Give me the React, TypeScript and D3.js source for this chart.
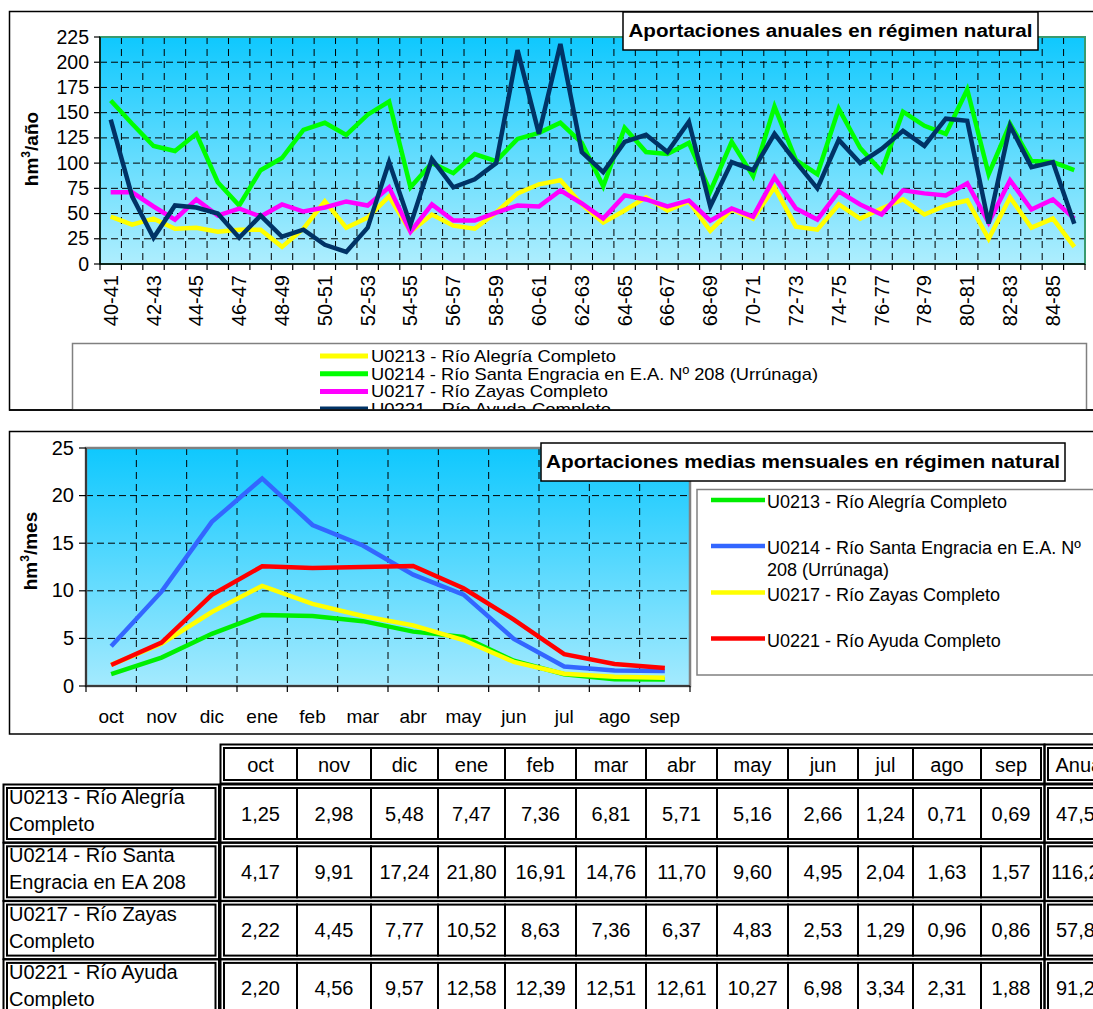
import React from "react";
import * as d3 from "d3";

// ---------- DATA ----------
const years = [
  "40-41","41-42","42-43","43-44","44-45","45-46","46-47","47-48","48-49","49-50",
  "50-51","51-52","52-53","53-54","54-55","55-56","56-57","57-58","58-59","59-60",
  "60-61","61-62","62-63","63-64","64-65","65-66","66-67","67-68","68-69","69-70",
  "70-71","71-72","72-73","73-74","74-75","75-76","76-77","77-78","78-79","79-80",
  "80-81","81-82","82-83","83-84","84-85","85-86",
];
const annualAlegria = [47,39,45,35,36,32,34,34,17,35,62,36,46,67,32,49,38,35,51,70,79,83,59,41,53,66,53,62,33,54,45,76,37,34,59,45,55,64,49,58,63,25,66,36,45,17];
const annualSantaEngracia = [162,139,117,112,129,81,58,93,105,133,140,128,148,161,76,100,90,109,102,124,130,140,120,77,135,111,109,120,72,121,87,156,103,89,154,115,92,151,137,129,173,89,139,102,101,93];
const annualZayas = [71,71,57,44,64,48,55,47,59,52,56,62,58,76,32,59,43,43,51,58,57,73,60,45,68,64,57,63,43,55,47,86,55,44,72,59,49,73,70,68,80,41,83,54,64,45];
const annualAyuda = [143,67,26,58,56,50,26,48,27,34,19,12,36,101,39,104,76,84,100,212,129,218,111,91,121,128,111,141,57,101,93,129,101,75,123,100,114,132,117,144,142,40,137,96,101,40];
const annualTicks = [0,25,50,75,100,125,150,175,200,225];

const months = ["oct","nov","dic","ene","feb","mar","abr","may","jun","jul","ago","sep"];
const monthlyAlegria = [1.25,2.98,5.48,7.47,7.36,6.81,5.71,5.16,2.66,1.24,0.71,0.69];
const monthlySantaEngracia = [4.17,9.91,17.24,21.80,16.91,14.76,11.70,9.60,4.95,2.04,1.63,1.57];
const monthlyZayas = [2.22,4.45,7.77,10.52,8.63,7.36,6.37,4.83,2.53,1.29,0.96,0.86];
const monthlyAyuda = [2.20,4.56,9.57,12.58,12.39,12.51,12.61,10.27,6.98,3.34,2.31,1.88];
const monthlyTicks = [0,5,10,15,20,25];
const annualTotals = [47.52,116.28,57.80,91.20];

const topLegend = [
  "U0213 - Río Alegría Completo",
  "U0214 - Río Santa Engracia en E.A. Nº 208 (Urrúnaga)",
  "U0217 - Río Zayas Completo",
  "U0221 - Río Ayuda Completo",
];
const bottomLegend = [
  ["U0213 - Río Alegría Completo"],
  ["U0214 - Río Santa Engracia en E.A. Nº", "208 (Urrúnaga)"],
  ["U0217 - Río Zayas Completo"],
  ["U0221 - Río Ayuda Completo"],
];
const tableRowLabels = [
  ["U0213 - Río Alegría", "Completo"],
  ["U0214 - Río Santa", "Engracia en EA 208"],
  ["U0217 - Río Zayas", "Completo"],
  ["U0221 - Río Ayuda", "Completo"],
];

// ---------- STYLE ----------
const FONT = "Arial, 'Liberation Sans', Helvetica, sans-serif";
const topColors = ["#FFFF00", "#00FF00", "#FF00FF", "#003366"];
const bottomColors = ["#00EE00", "#3366FF", "#FFFF00", "#FF0000"];

const fmt = (v: number) => v.toFixed(2).replace(".", ",");

export default function App() {
  // Top chart
  const T = { l: 100, r: 1085, t: 37, b: 264 };
  const xT = d3.scaleBand<string>().domain(years).range([T.l, T.r]);
  const bwT = xT.bandwidth();
  const yT = d3.scaleLinear().domain([0, 225]).range([T.b, T.t]);
  const lineT = d3
    .line<number>()
    .x((_, i) => (xT(years[i]) as number) + bwT / 2)
    .y((d) => yT(d));
  const topSeries = [annualAlegria, annualSantaEngracia, annualZayas, annualAyuda];

  // Bottom chart
  const B = { l: 86, r: 690, t: 448, b: 686 };
  const xB = d3.scaleBand<string>().domain(months).range([B.l, B.r]);
  const bwB = xB.bandwidth();
  const yB = d3.scaleLinear().domain([0, 25]).range([B.b, B.t]);
  const lineB = d3
    .line<number>()
    .x((_, i) => (xB(months[i]) as number) + bwB / 2)
    .y((d) => yB(d));
  const bottomSeries = [monthlyAlegria, monthlySantaEngracia, monthlyZayas, monthlyAyuda];

  // Table layout
  const colEdges = [224, 297, 371, 438, 505, 576, 646, 717, 788, 858, 913, 981, 1041];
  const anualX = [1048, 1130];
  const anualCx = 1081;
  const headerY = [748, 780];
  const rowY = (r: number) => 788 + 58.3 * r;
  const rowH = 51;
  const tableData = [monthlyAlegria, monthlySantaEngracia, monthlyZayas, monthlyAyuda];

  const group = (x0: number, x1: number, y0: number, y1: number, edges: number[], key: string) => (
    <g key={key}>
      <rect x={x0 - 3.5} y={y0 - 3.5} width={x1 - x0 + 7} height={y1 - y0 + 7} fill="none" stroke="#000" strokeWidth={2} />
      {edges.slice(0, -1).map((e, i) => (
        <rect key={i} x={e} y={y0} width={edges[i + 1] - e} height={y1 - y0} fill="#fff" stroke="#000" strokeWidth={2} />
      ))}
    </g>
  );

  return (
    <svg
      width={1093}
      height={1009}
      style={{ position: "absolute", left: 0, top: 0, background: "#fff" }}
      fontFamily={FONT}
    >
      <defs>
        <linearGradient id="bgGrad" x1="0" y1="0" x2="0" y2="1">
          <stop offset="0" stopColor="#0FC8FE" />
          <stop offset="1" stopColor="#AEEEFE" />
        </linearGradient>
        <linearGradient id="bgGrad2" x1="0" y1="0" x2="0" y2="1">
          <stop offset="0" stopColor="#0FC8FE" />
          <stop offset="1" stopColor="#A4EAFE" />
        </linearGradient>
        <clipPath id="topClip">
          <rect x={0} y={0} width={1093} height={409.5} />
        </clipPath>
      </defs>

      {/* ================= TOP CHART ================= */}
      <rect x={9.5} y={11.5} width={1100} height={398.5} fill="#fff" stroke="#000" strokeWidth={1.5} />
      <rect x={T.l} y={T.t} width={T.r - T.l} height={T.b - T.t} fill="url(#bgGrad)" />
      {annualTicks.slice(1, -1).map((v) => (
        <line key={v} x1={T.l} x2={T.r} y1={yT(v)} y2={yT(v)} stroke="#000" strokeWidth={1} strokeDasharray="7,4" />
      ))}
      {years.slice(1).map((d) => (
        <line key={d} x1={xT(d) as number} x2={xT(d) as number} y1={T.t} y2={T.b} stroke="#000" strokeWidth={1} strokeDasharray="7,5" />
      ))}
      <rect x={T.l} y={T.t} width={T.r - T.l} height={T.b - T.t} fill="none" stroke="#3A9A6E" strokeWidth={2} />
      <line x1={T.l} x2={T.l} y1={T.t} y2={T.b} stroke="#000" strokeWidth={1.5} />
      <line x1={T.l} x2={T.r} y1={T.b} y2={T.b} stroke="#000" strokeWidth={1.5} />
      {annualTicks.map((v) => (
        <g key={v}>
          <line x1={T.l - 6} x2={T.l} y1={yT(v)} y2={yT(v)} stroke="#000" strokeWidth={1.2} />
          <text x={T.l - 11} y={yT(v) + 6.5} textAnchor="end" fontSize={19.5}>{v}</text>
        </g>
      ))}
      {[...years.map((d) => xT(d) as number), T.r].map((x, i) => (
        <line key={i} x1={x} x2={x} y1={T.b} y2={T.b + 6} stroke="#000" strokeWidth={1.2} />
      ))}
      {years.map((d, i) =>
        i % 2 === 0 ? (
          <text
            key={d}
            transform={`translate(${(xT(d) as number) + bwT / 2 + 7},${T.b + 11}) rotate(-90)`}
            textAnchor="end"
            fontSize={20}
          >
            {d}
          </text>
        ) : null
      )}
      {topSeries.map((s, k) => (
        <path key={k} d={lineT(s) as string} fill="none" stroke={topColors[k]} strokeWidth={4.5} strokeLinejoin="miter" />
      ))}
      <text transform={`translate(38,149) rotate(-90)`} textAnchor="middle" fontSize={19} fontWeight="bold">
        hm<tspan dy={-8} fontSize={12}>3</tspan><tspan dy={8}>/año</tspan>
      </text>
      <rect x={623} y={12} width={415} height={38} fill="#fff" stroke="#000" strokeWidth={1.5} />
      <text x={830.5} y={37} textAnchor="middle" fontSize={18} fontWeight="bold" textLength={404} lengthAdjust="spacingAndGlyphs">
        Aportaciones anuales en régimen natural
      </text>
      <g clipPath="url(#topClip)">
        <rect x={72.5} y={343.5} width={1014} height={90} fill="#fff" stroke="#808080" strokeWidth={1.5} />
        {topLegend.map((t, i) => {
          const yy = 356 + i * 17.7;
          const lens = [245, 447, 237, 240];
          return (
            <g key={t}>
              <line x1={320} x2={368} y1={yy} y2={yy} stroke={topColors[i]} strokeWidth={5} />
              <text x={371} y={yy + 6} fontSize={17} textLength={lens[i]} lengthAdjust="spacingAndGlyphs">{t}</text>
            </g>
          );
        })}
      </g>
      <line x1={9} x2={1093} y1={410} y2={410} stroke="#000" strokeWidth={1.5} />

      {/* ================= BOTTOM CHART ================= */}
      <rect x={9.5} y={431.5} width={1100} height={302.5} fill="#fff" stroke="#000" strokeWidth={1.5} />
      <rect x={B.l} y={B.t} width={B.r - B.l} height={B.b - B.t} fill="url(#bgGrad2)" />
      {monthlyTicks.slice(1, -1).map((v) => (
        <line key={v} x1={B.l} x2={B.r} y1={yB(v)} y2={yB(v)} stroke="#000" strokeWidth={1} strokeDasharray="7,4" />
      ))}
      {months.slice(1).map((d) => (
        <line key={d} x1={xB(d) as number} x2={xB(d) as number} y1={B.t} y2={B.b} stroke="#000" strokeWidth={1} strokeDasharray="7,5" />
      ))}
      <rect x={B.l} y={B.t} width={B.r - B.l} height={B.b - B.t} fill="none" stroke="#808080" strokeWidth={2.5} />
      <line x1={B.l} x2={B.l} y1={B.t} y2={B.b} stroke="#222" strokeWidth={1.5} />
      <line x1={B.l} x2={B.r} y1={B.b} y2={B.b} stroke="#222" strokeWidth={1.5} />
      {monthlyTicks.map((v) => (
        <g key={v}>
          <line x1={B.l - 7} x2={B.l} y1={yB(v)} y2={yB(v)} stroke="#000" strokeWidth={1.2} />
          <text x={B.l - 12} y={yB(v) + 6.5} textAnchor="end" fontSize={20}>{v}</text>
        </g>
      ))}
      {[...months.map((d) => xB(d) as number), B.r].map((x, i) => (
        <line key={i} x1={x} x2={x} y1={B.b} y2={B.b + 6} stroke="#000" strokeWidth={1.2} />
      ))}
      {months.map((d) => (
        <text key={d} x={(xB(d) as number) + bwB / 2} y={723} textAnchor="middle" fontSize={19}>{d}</text>
      ))}
      {bottomSeries.map((s, k) => (
        <path key={k} d={lineB(s) as string} fill="none" stroke={bottomColors[k]} strokeWidth={4.5} strokeLinejoin="miter" />
      ))}
      <text transform={`translate(37,551) rotate(-90)`} textAnchor="middle" fontSize={19} fontWeight="bold">
        hm<tspan dy={-8} fontSize={12}>3</tspan><tspan dy={8}>/mes</tspan>
      </text>
      <rect x={541} y={443} width={524} height={38} fill="#fff" stroke="#000" strokeWidth={1.5} />
      <text x={803} y={468} textAnchor="middle" fontSize={18} fontWeight="bold" textLength={514} lengthAdjust="spacingAndGlyphs">
        Aportaciones medias mensuales en régimen natural
      </text>
      <rect x={697} y={489.5} width={420} height={185.5} fill="#fff" stroke="#808080" strokeWidth={1.5} />
      {bottomLegend.map((lines, i) => {
        const yy = [500, 546, 592.5, 638.5][i];
        return (
          <g key={i}>
            <line x1={711} x2={765} y1={yy} y2={yy} stroke={bottomColors[i]} strokeWidth={4.5} />
            {lines.map((t, j) => (
              <text key={j} x={767} y={yy + 8 + j * 22} fontSize={18}>{t}</text>
            ))}
          </g>
        );
      })}

      {/* ================= TABLE ================= */}
      {group(colEdges[0], colEdges[colEdges.length - 1], headerY[0], headerY[1], colEdges, "hm")}
      {group(anualX[0], anualX[1], headerY[0], headerY[1], anualX, "ha")}
      {months.map((m, i) => (
        <text key={m} x={(colEdges[i] + colEdges[i + 1]) / 2} y={772} textAnchor="middle" fontSize={20}>{m}</text>
      ))}
      <text x={anualCx} y={772} textAnchor="middle" fontSize={20}>Anual</text>
      {tableData.map((row, r) => {
        const y0 = rowY(r);
        const y1 = y0 + rowH;
        const cy = (y0 + y1) / 2 + 7;
        return (
          <g key={r}>
            {group(7, 215.5, y0, y1, [7, 215.5], "l" + r)}
            {group(colEdges[0], colEdges[colEdges.length - 1], y0, y1, colEdges, "m" + r)}
            {group(anualX[0], anualX[1], y0, y1, anualX, "a" + r)}
            <text x={9} y={y0 + 16} fontSize={20}>{tableRowLabels[r][0]}</text>
            <text x={9} y={y0 + 43} fontSize={20}>{tableRowLabels[r][1]}</text>
            {row.map((v, i) => (
              <text key={i} x={(colEdges[i] + colEdges[i + 1]) / 2} y={cy} textAnchor="middle" fontSize={20}>{fmt(v)}</text>
            ))}
            <text x={anualCx} y={cy} textAnchor="middle" fontSize={20}>{fmt(annualTotals[r])}</text>
          </g>
        );
      })}
    </svg>
  );
}
